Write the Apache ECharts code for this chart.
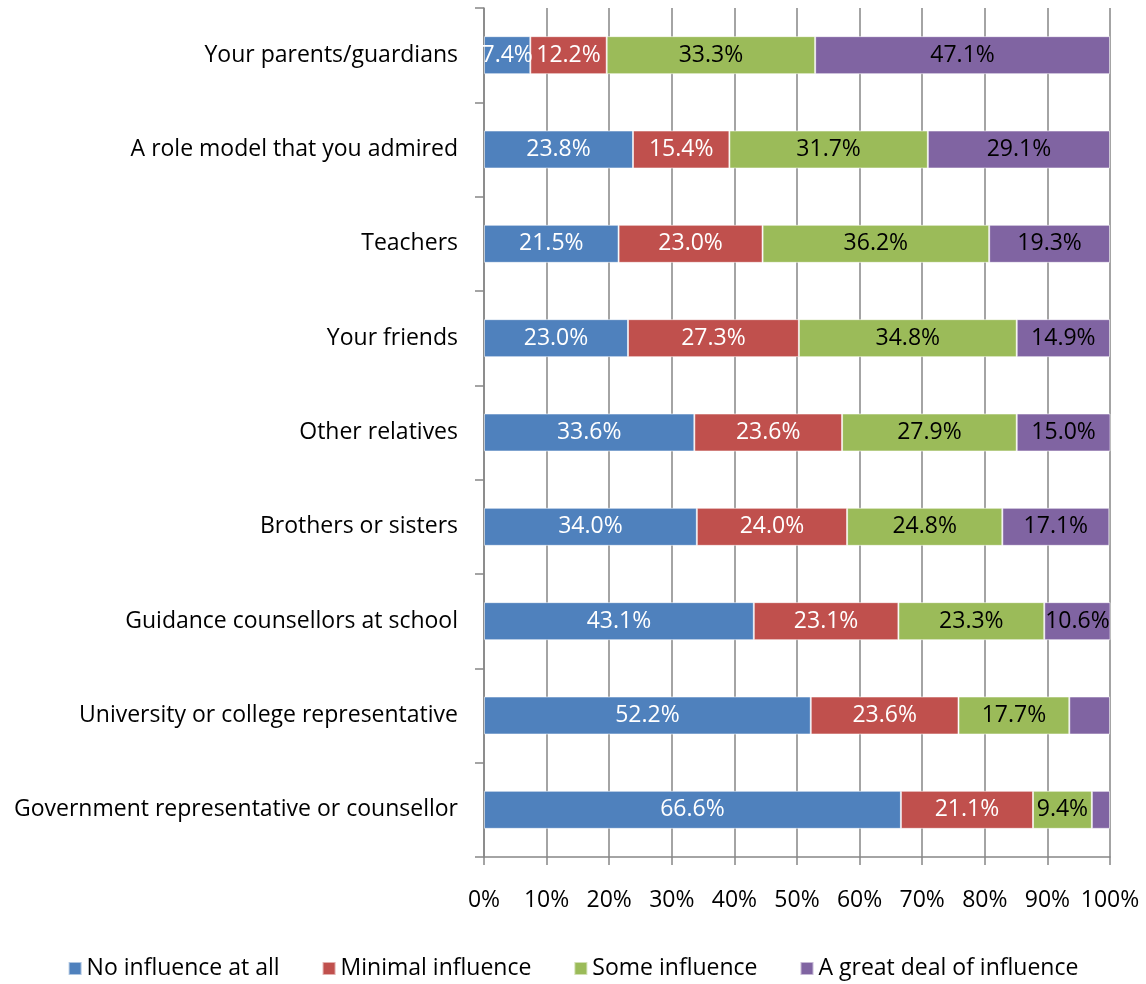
<!DOCTYPE html>
<html>
<head>
<meta charset="utf-8">
<script src="https://cdn.jsdelivr.net/npm/echarts@6/dist/echarts.min.js"></script>
<style>
  html, body { margin: 0; padding: 0; background: #fff; }
  #chart { width: 1146px; height: 984px; }
</style>
</head>
<body>
<div id="chart"></div>
<script>
// Sources of influence, listed top to bottom
const categories = [
  'Your parents/guardians',
  'A role model that you admired',
  'Teachers',
  'Your friends',
  'Other relatives',
  'Brothers or sisters',
  'Guidance counsellors at school',
  'University or college representative',
  'Government representative or counsellor'
];

const seriesNames = ['No influence at all', 'Minimal influence', 'Some influence', 'A great deal of influence'];

// Percent of respondents per category
const noInfluence    = [7.4, 23.8, 21.5, 23.0, 33.6, 34.0, 43.1, 52.2, 66.6];
const minimal        = [12.2, 15.4, 23.0, 27.3, 23.6, 24.0, 23.1, 23.6, 21.1];
const someInfluence  = [33.3, 31.7, 36.2, 34.8, 27.9, 24.8, 23.3, 17.7, 9.4];
const greatDeal      = [47.1, 29.1, 19.3, 14.9, 15.0, 17.1, 10.6, 6.5, 2.9];
// Whether each great-deal segment carries a value label
const greatDealLabelled = [true, true, true, true, true, true, true, false, false];

const xTicks = [0, 10, 20, 30, 40, 50, 60, 70, 80, 90, 100];

const colors = ['#4f81bd', '#c0504d', '#9bbb59', '#8064a2'];
const labelColors = ['#ffffff', '#ffffff', '#000000', '#000000'];
const FONT = '"Open Sans", Lato, sans-serif';
const FS = 23;

function makeSeries(name, values, idx, labelledFlags) {
  return {
    name: name,
    type: 'bar',
    stack: 'total',
    barWidth: 38,
    itemStyle: { color: colors[idx], borderColor: 'rgba(255,255,255,0.55)', borderWidth: 1 },
    label: {
      show: true,
      position: 'inside',
      color: labelColors[idx],
      fontFamily: FONT,
      fontSize: FS,
      padding: [5, 0, 0, 0],
      formatter: p => p.value.toFixed(1) + '%'
    },
    data: values.map((v, i) => {
      if (labelledFlags && !labelledFlags[i]) {
        return { value: v, label: { show: false } };
      }
      return v;
    })
  };
}

const chart = echarts.init(document.getElementById('chart'), null, { renderer: 'canvas' });

chart.setOption({
  animation: false,
  textStyle: { fontFamily: FONT },
  grid: { left: 484, right: 36, top: 8, bottom: 127, containLabel: false },
  legend: {
    bottom: -1,
    left: 'center',
    itemWidth: 13,
    itemHeight: 13,
    itemGap: 42,
    icon: 'rect',
    textStyle: { fontFamily: FONT, fontSize: FS, color: '#000' },
    data: seriesNames
  },
  xAxis: {
    type: 'value',
    min: 0,
    max: 100,
    interval: 10,
    axisLine: { show: true, lineStyle: { color: '#868686', width: 1.5 } },
    axisTick: { show: true, length: 8, lineStyle: { color: '#868686', width: 1.5 } },
    axisLabel: {
      margin: 32,
      fontSize: FS,
      color: '#000',
      fontFamily: FONT,
      formatter: v => xTicks.includes(v) ? v + '%' : ''
    },
    splitLine: { show: true, lineStyle: { color: '#868686', width: 1.5 } }
  },
  yAxis: {
    type: 'category',
    inverse: true,
    data: categories,
    axisLine: { show: true, lineStyle: { color: '#868686', width: 1.5 } },
    axisTick: { show: true, length: 9, inside: false, alignWithLabel: false, lineStyle: { color: '#868686', width: 1.5 } },
    axisLabel: { margin: 26, fontSize: FS, color: '#000', fontFamily: FONT, padding: [5, 0, 0, 0] }
  },
  series: [
    makeSeries(seriesNames[0], noInfluence, 0),
    makeSeries(seriesNames[1], minimal, 1),
    makeSeries(seriesNames[2], someInfluence, 2),
    makeSeries(seriesNames[3], greatDeal, 3, greatDealLabelled)
  ]
});
</script>
</body>
</html>
